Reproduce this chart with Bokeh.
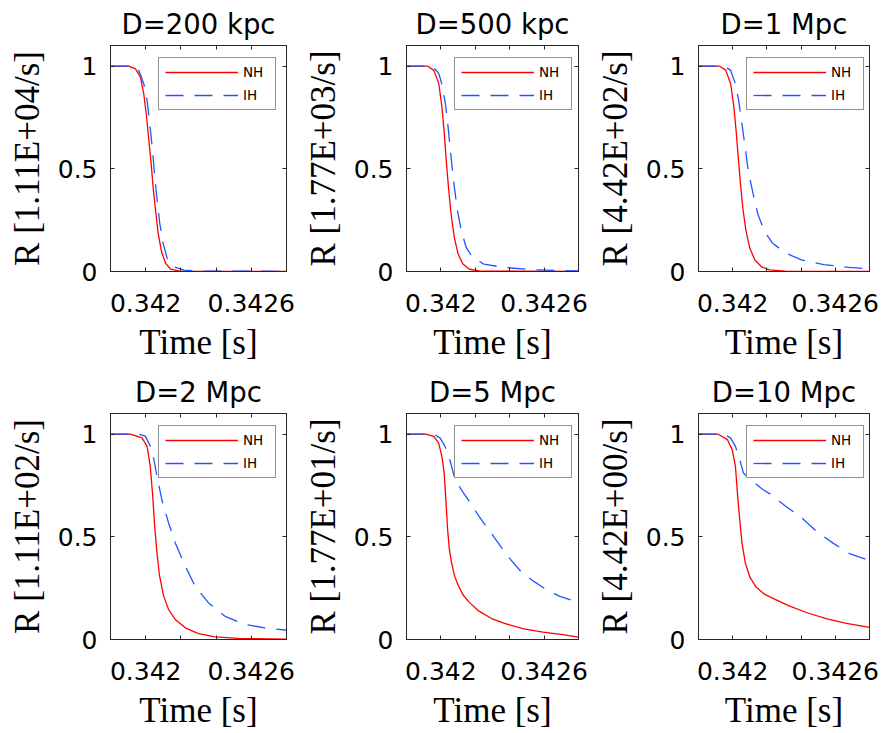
from bokeh.plotting import figure
from bokeh.models import (FixedTicker, LinearAxis, Range1d, Legend, LegendItem,
                          CustomJSTickFormatter)
from bokeh.layouts import column, row
from bokeh.embed import file_html
from bokeh.resources import INLINE

# ---------------- data ----------------
titles = ["D=200 kpc", "D=500 kpc", "D=1 Mpc", "D=2 Mpc", "D=5 Mpc", "D=10 Mpc"]
ylabels = ["R [1.11E+04/s]", "R [1.77E+03/s]", "R [4.42E+02/s]",
           "R [1.11E+02/s]", "R [1.77E+01/s]", "R [4.42E+00/s]"]
x_major = [0.342, 0.3426]
x_minor = [0.3418, 0.3422, 0.3424, 0.3428]
y_ticks = [0, 0.5, 1]

t_nh_200 = [0.3418, 0.341904, 0.341942, 0.34197, 0.341989, 0.342005, 0.342018, 0.342031, 0.342042,
            0.342056, 0.342071, 0.34209, 0.342113, 0.342141, 0.342198, 0.3428]
r_nh_200 = [1, 1, 0.986, 0.946, 0.865, 0.752, 0.638, 0.525, 0.412, 0.298, 0.185, 0.096, 0.04,
            0.012, 0.001, 0]
t_ih_200 = [0.3418, 0.341923, 0.341961, 0.341989, 0.342008, 0.342023, 0.342037, 0.34205, 0.342065,
            0.34208, 0.342099, 0.342122, 0.34216, 0.342217, 0.342311, 0.3428]
r_ih_200 = [1, 1, 0.978, 0.914, 0.833, 0.719, 0.606, 0.477, 0.347, 0.234, 0.137, 0.064, 0.023,
            0.007, 0.002, 0.001]

t_nh_500 = [0.3418, 0.341922, 0.341959, 0.341988, 0.342006, 0.34202, 0.342031, 0.342044, 0.342059,
            0.342078, 0.3421, 0.342128, 0.342166, 0.342222, 0.3428]
r_nh_500 = [1, 1, 0.979, 0.914, 0.80, 0.67, 0.54, 0.41, 0.28, 0.166, 0.085, 0.036, 0.011, 0.003, 0]
t_ih_500 = [0.3418, 0.34195, 0.341988, 0.34201, 0.342029, 0.342044, 0.342059, 0.342076, 0.342096,
            0.342119, 0.342147, 0.342185, 0.34225, 0.342363, 0.34255, 0.3428]
r_ih_500 = [1, 1, 0.963, 0.898, 0.80, 0.686, 0.556, 0.426, 0.296, 0.198, 0.117, 0.068, 0.036,
            0.02, 0.008, 0.003]

t_nh_1m = [0.3418, 0.341922, 0.34196, 0.341988, 0.342007, 0.34202, 0.342031, 0.342044, 0.342059,
           0.342078, 0.3421, 0.342129, 0.342167, 0.342214, 0.342308, 0.3428]
r_nh_1m = [1, 1, 0.979, 0.914, 0.80, 0.685, 0.571, 0.44, 0.31, 0.196, 0.114, 0.057, 0.024, 0.008,
           0.002, 0]
t_ih_1m = [0.3418, 0.34195, 0.341988, 0.342016, 0.342035, 0.342054, 0.342073, 0.342091, 0.34212,
           0.342148, 0.342185, 0.342232, 0.342308, 0.342402, 0.342533, 0.342683, 0.3428]
r_ih_1m = [1, 1, 0.979, 0.914, 0.832, 0.718, 0.604, 0.489, 0.375, 0.277, 0.196, 0.139, 0.09,
           0.057, 0.033, 0.02, 0.013]

t_nh_2m = [0.3418, 0.341913, 0.341979, 0.342008, 0.342026, 0.34204, 0.342051, 0.342064, 0.342079,
           0.342102, 0.34213, 0.342168, 0.342225, 0.3423, 0.342394, 0.342526, 0.3428]
r_nh_2m = [1, 1, 0.981, 0.94, 0.843, 0.697, 0.551, 0.421, 0.308, 0.211, 0.146, 0.097, 0.057,
           0.029, 0.013, 0.005, 0.002]
t_ih_2m = [0.3418, 0.34196, 0.341998, 0.342036, 0.342064, 0.342092, 0.34213, 0.342168, 0.342225,
           0.342281, 0.342357, 0.342451, 0.342564, 0.342677, 0.3428]
r_ih_2m = [1, 1, 0.99, 0.924, 0.794, 0.68, 0.567, 0.47, 0.357, 0.259, 0.178, 0.113, 0.073, 0.057,
           0.045]

t_nh_5m = [0.3418, 0.341912, 0.341959, 0.341987, 0.342006, 0.342019, 0.34203, 0.342039, 0.342049,
           0.342062, 0.34208, 0.342099, 0.342127, 0.342164, 0.342221, 0.342295, 0.34237, 0.342482,
           0.342594, 0.342707, 0.3428]
r_nh_5m = [1, 1, 0.989, 0.956, 0.89, 0.81, 0.665, 0.535, 0.44, 0.373, 0.308, 0.267, 0.219, 0.182,
           0.138, 0.102, 0.078, 0.052, 0.036, 0.024, 0.012]
t_ih_5m = [0.3418, 0.341959, 0.341996, 0.342024, 0.342052, 0.34208, 0.342118, 0.342164, 0.342221,
           0.342277, 0.342333, 0.342389, 0.342464, 0.342538, 0.342613, 0.342688, 0.3428]
r_ih_5m = [1, 1, 0.98, 0.94, 0.875, 0.786, 0.73, 0.673, 0.60, 0.535, 0.47, 0.405, 0.332, 0.284,
           0.243, 0.211, 0.18]

t_nh_10m = [0.3418, 0.341913, 0.341969, 0.341997, 0.342016, 0.342029, 0.342041, 0.342054, 0.342073,
            0.342101, 0.342138, 0.342185, 0.342251, 0.342326, 0.342439, 0.342552, 0.342665, 0.3428]
r_nh_10m = [1, 1, 0.973, 0.924, 0.843, 0.698, 0.585, 0.472, 0.375, 0.302, 0.254, 0.221, 0.194,
            0.165, 0.129, 0.100, 0.079, 0.059]
t_ih_10m = [0.3418, 0.34195, 0.341988, 0.342016, 0.342041, 0.342063, 0.342101, 0.342176, 0.342223,
            0.342308, 0.342402, 0.342495, 0.342589, 0.342683, 0.3428]
r_ih_10m = [1, 1, 0.98, 0.94, 0.876, 0.81, 0.78, 0.73, 0.706, 0.65, 0.593, 0.523, 0.468, 0.418,
            0.385]

series = [
    (t_nh_200, r_nh_200, t_ih_200, r_ih_200),
    (t_nh_500, r_nh_500, t_ih_500, r_ih_500),
    (t_nh_1m, r_nh_1m, t_ih_1m, r_ih_1m),
    (t_nh_2m, r_nh_2m, t_ih_2m, r_ih_2m),
    (t_nh_5m, r_nh_5m, t_ih_5m, r_ih_5m),
    (t_nh_10m, r_nh_10m, t_ih_10m, r_ih_10m),
]

# ---------------- styling ----------------
AX = "#262626"
SANS = "DejaVu Sans"
SERIF = "Liberation Serif"
FMT = "return tick.toString();"
FRAME_W = 176
FRAME_H = 227


def style_axis(ax, ticker, show_labels=True):
    ax.ticker = ticker
    ax.formatter = CustomJSTickFormatter(code=FMT)
    ax.axis_line_color = AX
    ax.major_tick_line_color = AX
    ax.minor_tick_line_color = AX
    ax.major_tick_in = 4
    ax.major_tick_out = 0
    ax.minor_tick_in = 4
    ax.minor_tick_out = 0
    if show_labels:
        ax.major_label_text_font = SANS
        ax.major_label_text_font_size = "25px"
        ax.major_label_text_color = "black"
    else:
        ax.major_label_text_font_size = "0px"
        ax.major_label_text_color = None
        ax.major_label_text_alpha = 0
        ax.major_label_standoff = 0


def make_panel(i, width, height, left, bottom):
    tn, rn, ti, ri = series[i]
    p = figure(width=width, height=height,
               x_range=Range1d(0.3418, 0.3428), y_range=Range1d(0, 1.1),
               output_backend="svg", toolbar_location=None,
               min_border_left=left, min_border_right=width - left - FRAME_W,
               min_border_top=44, min_border_bottom=bottom)
    p.background_fill_color = "white"
    p.border_fill_color = "white"
    p.outline_line_color = AX
    p.xgrid.visible = False
    p.ygrid.visible = False

    p.title.text = titles[i]
    p.title.align = "center"
    p.title.text_font = SANS
    p.title.text_font_size = "27.5px"
    p.title.text_font_style = "normal"
    p.title.text_color = "black"
    p.title.standoff = 11

    style_axis(p.xaxis[0], FixedTicker(ticks=x_major, minor_ticks=x_minor))
    style_axis(p.yaxis[0], FixedTicker(ticks=y_ticks, minor_ticks=[]))
    p.xaxis.major_label_standoff = 22
    p.yaxis.major_label_standoff = 13
    p.xaxis.axis_label = "Time [s]"
    p.yaxis.axis_label = ylabels[i]
    for ax in (p.xaxis[0], p.yaxis[0]):
        ax.axis_label_text_font = SERIF
        ax.axis_label_text_font_size = "35px"
        ax.axis_label_text_font_style = "normal"
        ax.axis_label_text_color = "black"
    p.xaxis.axis_label_standoff = 8
    p.yaxis.axis_label_standoff = 8

    top = LinearAxis()
    style_axis(top, FixedTicker(ticks=x_major, minor_ticks=x_minor), show_labels=False)
    p.add_layout(top, "above")
    right = LinearAxis()
    style_axis(right, FixedTicker(ticks=y_ticks, minor_ticks=[]), show_labels=False)
    p.add_layout(right, "right")

    r1 = p.line(tn, rn, line_color="#ff0000", line_width=1.3)
    r2 = p.line(ti, ri, line_color="#1f55ff", line_width=1.3, line_dash="18 11")

    leg = Legend(items=[LegendItem(label="NH", renderers=[r1]),
                        LegendItem(label="IH", renderers=[r2])],
                 location=(48, 161.5), margin=0, padding=6, spacing=7,
                 glyph_width=73, glyph_height=16, label_height=16, label_width=26,
                 label_standoff=5, label_text_font=SANS, label_text_font_size="13.5px",
                 label_text_color="black",
                 border_line_color=AX, border_line_width=1,
                 background_fill_color="white", background_fill_alpha=1)
    p.add_layout(leg)
    return p


widths = [300, 292, 291]
lefts = [110, 102, 101]
row1 = [make_panel(i, widths[i], 368, lefts[i], 97) for i in range(3)]
row2 = [make_panel(i + 3, widths[i], 365, lefts[i], 94) for i in range(3)]
layout = column(row(*row1), row(*row2))

open("out.html", "w").write(file_html(layout, INLINE))
